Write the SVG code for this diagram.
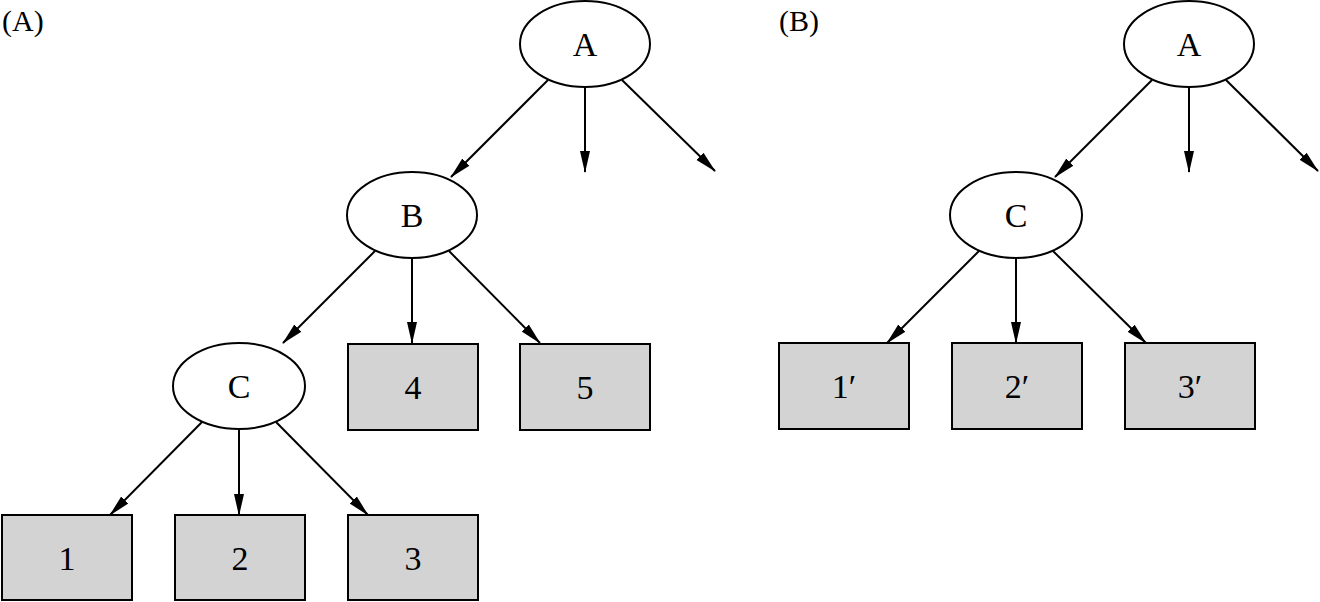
<svg xmlns="http://www.w3.org/2000/svg" width="1320" height="602" viewBox="0 0 1320 602">
<style>
.el{fill:#fff;stroke:#000;stroke-width:2}
.bx{fill:#d3d3d3;stroke:#000;stroke-width:2}
.t{font-family:"Liberation Serif","Times New Roman",serif;font-size:34px;fill:#000;text-anchor:middle}
.lb{font-family:"Liberation Serif","Times New Roman",serif;font-size:30px;fill:#000}
.c{stroke:#000;stroke-width:2;fill:none;marker-end:url(#ah)}
</style>
<defs>
<marker id="ah" markerUnits="userSpaceOnUse" markerWidth="22" markerHeight="12" refX="21" refY="6" orient="auto">
<path d="M0,1 L22,6 L0,11 Z" fill="#000"/>
</marker>
</defs>
<rect width="1320" height="602" fill="#fff"/>
<text class="lb" x="2" y="31">(A)</text>
<text class="lb" x="779" y="31">(B)</text>
<g id="connectors">
<line class="c" x1="548" y1="80" x2="451" y2="177"/>
<line class="c" x1="585" y1="87" x2="585" y2="172"/>
<line class="c" x1="622" y1="80" x2="715" y2="171"/>
<line class="c" x1="375" y1="251" x2="283" y2="343"/>
<line class="c" x1="412" y1="258" x2="412" y2="343"/>
<line class="c" x1="449" y1="251" x2="540" y2="343"/>
<line class="c" x1="202" y1="422" x2="110" y2="515"/>
<line class="c" x1="239" y1="429" x2="239" y2="515"/>
<line class="c" x1="276" y1="422" x2="368" y2="515"/>
<line class="c" x1="1152" y1="80" x2="1055" y2="177"/>
<line class="c" x1="1189" y1="87" x2="1189" y2="172"/>
<line class="c" x1="1226" y1="80" x2="1318" y2="171"/>
<line class="c" x1="979" y1="251" x2="887" y2="343"/>
<line class="c" x1="1016" y1="258" x2="1016" y2="343"/>
<line class="c" x1="1053" y1="251" x2="1146" y2="343"/>
</g>
<g id="A1"><ellipse class="el" cx="585" cy="44" rx="65" ry="43"/><text class="t" x="585" y="56">A</text></g>
<g id="B1"><ellipse class="el" cx="412" cy="215" rx="65" ry="43"/><text class="t" x="412" y="227">B</text></g>
<g id="C1"><ellipse class="el" cx="239" cy="386" rx="66" ry="43"/><text class="t" x="239" y="398">C</text></g>
<g id="n4"><rect class="bx" x="348" y="344" width="130" height="86"/><text class="t" x="413" y="399">4</text></g>
<g id="n5"><rect class="bx" x="520" y="344" width="130" height="86"/><text class="t" x="585" y="399">5</text></g>
<g id="n1"><rect class="bx" x="2" y="515" width="130" height="85"/><text class="t" x="67" y="570">1</text></g>
<g id="n2"><rect class="bx" x="175" y="515" width="130" height="85"/><text class="t" x="240" y="570">2</text></g>
<g id="n3"><rect class="bx" x="348" y="515" width="130" height="85"/><text class="t" x="413" y="570">3</text></g>
<g id="A2"><ellipse class="el" cx="1189" cy="44" rx="65" ry="43"/><text class="t" x="1189" y="56">A</text></g>
<g id="C2"><ellipse class="el" cx="1016" cy="215" rx="66" ry="43"/><text class="t" x="1016" y="227">C</text></g>
<g id="n1p"><rect class="bx" x="779" y="343" width="130" height="86"/><text class="t" x="844" y="398">1′</text></g>
<g id="n2p"><rect class="bx" x="952" y="343" width="130" height="86"/><text class="t" x="1017" y="398">2′</text></g>
<g id="n3p"><rect class="bx" x="1125" y="343" width="130" height="86"/><text class="t" x="1190" y="398">3′</text></g>
</svg>
